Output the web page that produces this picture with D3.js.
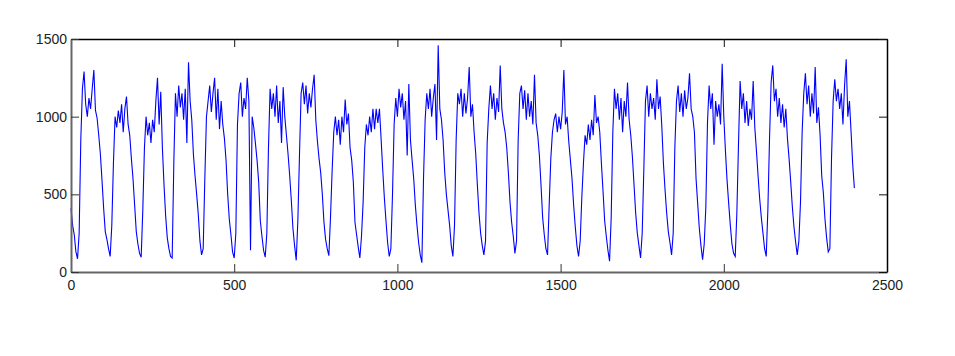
<!DOCTYPE html>
<html>
<head>
<meta charset="utf-8">
<script src="https://cdn.jsdelivr.net/npm/d3@7"></script>
<style>
body{margin:0;background:#fff;}
.axis text{font-family:"Liberation Sans",Arial,sans-serif;font-size:14px;fill:#222;}
</style>
</head>
<body>
<div id="canvas"></div>
<script>
// tick labels
var xTicks = [0, 500, 1000, 1500, 2000, 2500];
var yTicks = [0, 500, 1000, 1500];

// one sample every 5 units along x (one line per 100 units)
var sampleStep = 5;
var load = [
  410,300,240,131,85,250,850,1180,1290,1080,1000,1120,1050,1180,1300,1040,990,880,760,590,
  410,260,210,150,100,300,700,1000,930,1040,960,1080,900,1050,1130,950,880,730,600,430,
  260,180,120,95,400,800,1000,880,960,830,980,900,1100,1250,950,1160,800,560,360,220,
  150,100,90,700,1150,1000,1200,1060,1150,980,1180,830,1350,1100,980,760,620,500,370,200,
  110,150,600,1000,1100,1200,1030,1150,1250,980,1180,920,1100,950,860,720,500,340,240,130,
  90,250,950,1150,1220,1000,1120,1050,1250,1100,140,1000,930,830,720,580,330,230,140,95,
  250,800,1180,1050,1150,1000,1200,960,1100,830,1190,1000,880,760,620,460,280,170,75,330,
  750,1150,1220,1080,1200,1020,1150,1060,1180,1270,980,840,730,640,500,320,210,150,105,350,
  650,900,1000,880,980,820,1000,900,1110,950,1020,800,720,580,320,240,160,90,230,450,
  800,950,880,1000,900,1050,920,1050,960,1050,860,660,480,330,190,100,150,500,950,1120,
  1000,1180,1060,1150,980,1100,750,1210,850,720,600,430,300,190,110,60,600,980,1150,1050,
  1180,1000,1120,1210,850,1460,1050,980,850,640,500,400,300,170,100,300,850,1150,1080,1180,
  1000,1150,1020,1120,1320,1000,1080,900,760,560,380,250,170,110,200,830,1050,1200,1050,1150,
  980,1120,1030,1330,1050,960,900,800,640,450,320,230,120,200,850,1150,1200,1050,1170,980,
  1150,1000,1100,950,1270,960,880,750,560,350,240,150,110,430,730,900,980,1020,900,1000,
  920,1030,1300,950,1000,840,720,600,430,290,170,100,200,480,700,880,820,950,850,980,
  880,1140,960,1000,900,700,520,330,230,140,70,350,900,1180,1050,1150,980,1120,900,1100,
  1000,1220,980,880,740,560,380,250,170,90,250,660,1100,1200,1000,1150,1050,1120,980,1240,
  1050,1130,940,700,530,380,260,190,110,250,800,1100,1200,1030,1150,1000,1170,1050,1120,1280,
  1050,1000,900,600,440,280,170,80,180,420,960,1200,1050,1150,820,1100,1000,1080,950,1340,
  1000,780,590,440,300,180,120,100,380,820,1230,1050,1150,960,1100,940,1050,980,1230,930,
  780,620,470,350,250,150,100,400,850,1220,1330,1100,1180,1000,1120,960,1080,930,1050,860,
  730,580,420,290,195,110,200,450,900,1150,1280,1080,1200,1000,1150,1020,1320,960,1060,880,
  620,510,340,220,130,150,730,1100,1240,1100,1180,1050,1150,950,1200,1370,1000,1100,900,690,
  540
];

//margin convention
var m = {t:39, r:68, b:84, l:71};
var outerWidth = 955, outerHeight = 356;
var w = outerWidth - m.l - m.r,
    h = outerHeight - m.t - m.b;

var plot = d3.select('#canvas')
    .append('svg')
    .attr('width', outerWidth)
    .attr('height', outerHeight)
    .style('display', 'block')
    .append('g')
    .attr('transform', 'translate(' + m.l + ',' + m.t + ')');

var scaleX = d3.scaleLinear().domain([0, 2500]).range([0, w]);
var scaleY = d3.scaleLinear().domain([0, 1500]).range([h, 0]);

//the trace
var line = d3.line()
    .x(function(d, i){ return scaleX(i * sampleStep); })
    .y(function(d){ return scaleY(d); });

plot.append('path')
    .datum(load)
    .attr('d', line)
    .attr('fill', 'none')
    .attr('stroke', '#0000ff')
    .attr('stroke-width', 1.1);

//axes, matlab style: ticks pointing inward on all four sides
var fmt = d3.format('d');
var axisB = d3.axisBottom(scaleX).tickValues(xTicks).tickFormat(fmt).tickSizeInner(-8).tickSizeOuter(0).tickPadding(8);
var axisT = d3.axisTop(scaleX).tickValues(xTicks).tickSizeInner(-8).tickSizeOuter(0).tickFormat('');
var axisL = d3.axisLeft(scaleY).tickValues(yTicks).tickFormat(fmt).tickSizeInner(-8).tickSizeOuter(0).tickPadding(4);
var axisR = d3.axisRight(scaleY).tickValues(yTicks).tickSizeInner(-8).tickSizeOuter(0).tickFormat('');

var gB = plot.append('g').attr('class', 'axis').attr('transform', 'translate(0,' + h + ')').call(axisB);
var gT = plot.append('g').attr('class', 'axis').call(axisT);
var gL = plot.append('g').attr('class', 'axis').call(axisL);
var gR = plot.append('g').attr('class', 'axis').attr('transform', 'translate(' + w + ',0)').call(axisR);

[gB, gL].forEach(function(g){
  g.select('.domain').attr('stroke', '#666').attr('stroke-width', 2);
  g.selectAll('.tick line').attr('stroke', '#333');
});
[gT, gR].forEach(function(g){
  g.select('.domain').attr('stroke', '#000').attr('stroke-width', 1.5);
  g.selectAll('.tick line').attr('stroke', '#111');
});
gB.selectAll('text').attr('dy', '0.71em');
</script>
</body>
</html>
